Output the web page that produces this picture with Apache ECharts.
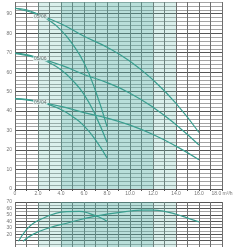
<!DOCTYPE html>
<html><head><meta charset="utf-8">
<script src="https://cdn.jsdelivr.net/npm/echarts@6/dist/echarts.min.js"></script>
<style>html,body{margin:0;padding:0;background:#fff}#c{width:247px;height:247px}</style>
</head><body><div id="c"></div>
<script>
// Flow (m³/h)
const flowLong = [0, 2, 4, 6, 8, 10, 12, 14, 16];
const flowShort = [0, 1, 2, 3, 4, 5, 6, 7, 8];
// Head curves (m)
const head0508Long = [92.8, 89.6, 84.8, 78.4, 72.8, 65.6, 56, 44, 29];
const head0506Long = [69.6, 67.2, 63.6, 58.8, 54.6, 49.2, 42, 33, 22.6];
const head0504Long = [46.4, 44.8, 42.4, 39.2, 36.4, 32.8, 28, 22, 15];
const head0508Short = [92.8, 92, 89.6, 86.4, 81.6, 74.4, 64.8, 50.4, 32];
const head0506Short = [69.6, 69, 67.2, 64.8, 61.2, 55.8, 48.6, 37.8, 24];
const head0504Short = [46.4, 46, 44.8, 43.2, 40.8, 37.2, 32.4, 25.2, 16];
// Curve labels
const curveNames = ['05/08', '05/06', '05/04'];
const labelFlow = [2.2, 2.2, 2.2];
const labelHead = [88.3, 66.8, 44.5];
// Efficiency curves (%)
const effShortFlow = [0.3, 1.0, 1.6, 2.5, 3.3, 4.5, 5.6, 6.5, 7.4, 8.0];
const effShortVal = [9, 27, 37, 45, 51, 55, 55.5, 52, 46, 40];
const effLongFlow = [0.7, 1.6, 3.0, 4.5, 6.0, 8.0, 10.0, 11.0, 12.0, 13.0, 14.0, 15.0, 16.0];
const effLongVal = [9, 20, 30, 37, 44, 51, 56, 57.5, 57.5, 55.5, 51, 45, 39];
// Tick labels
const xTickLabels = {0: '0', 2: '2.0', 4: '4.0', 6: '6.0', 8: '8.0', 10: '10.0', 12: '12.0', 14: '14.0', 16: '16.0', 18: '18.0 m³/h'};
// Shaded operating ranges
const rangeOuter = [2, 14];
const rangeInner = [4, 12];

const zip = (a, b) => a.map((v, i) => [v, b[i]]);
const teal = '#3a9e8f';
const font = 'Liberation Sans';
const labCol = '#777';
const dark = '#555555', light = '#a4a4a4';

const lineSeries = (data, xi, yi) => ({
  type: 'line', data, xAxisIndex: xi, yAxisIndex: yi, smooth: true, symbol: 'none',
  lineStyle: { color: teal, width: 1.2 }, z: 3
});
const shade = (xi, yi) => ({
  type: 'line', data: [], xAxisIndex: xi, yAxisIndex: yi, silent: true,
  markArea: { silent: true, data: [
    [{ xAxis: rangeOuter[0], itemStyle: { color: 'rgba(110,195,180,0.25)' } }, { xAxis: rangeOuter[1] }],
    [{ xAxis: rangeInner[0], itemStyle: { color: 'rgba(70,165,155,0.22)' } }, { xAxis: rangeInner[1] }]
  ] }
});

const chart = echarts.init(document.getElementById('c'), null, { renderer: 'canvas' });
chart.setOption({
  animation: false,
  grid: [
    { left: 15, right: 25, top: 2, height: 187 },
    { left: 15, right: 25, top: 202, height: 51 }
  ],
  xAxis: [
    { type: 'value', gridIndex: 0, min: 0, max: 18, interval: 1,
      axisLine: { show: true, lineStyle: { color: dark, width: 1 } },
      axisTick: { show: true, length: 2, lineStyle: { color: dark } },
      axisLabel: { fontSize: 5, fontFamily: font, color: labCol, margin: 2,
        formatter: v => xTickLabels[v] !== undefined ? xTickLabels[v] : '' },
      splitLine: { show: true, lineStyle: { color: '#6e6e6e', width: 1 } } },
    { type: 'value', gridIndex: 1, min: 0, max: 18, interval: 1,
      axisLine: { show: false }, axisTick: { show: false }, axisLabel: { show: false },
      splitLine: { show: true, lineStyle: { color: '#6e6e6e', width: 1 } } }
  ],
  yAxis: [
    { type: 'value', gridIndex: 0, min: 0, max: 96, interval: 2,
      axisLine: { show: false }, axisTick: { show: false },
      axisLabel: { fontSize: 5, fontFamily: font, color: labCol, margin: 3,
        formatter: v => v % 10 === 0 ? String(v) : '' },
      splitLine: { show: true, lineStyle: { color: [dark, light, light, light, light], width: 1 } } },
    { type: 'value', gridIndex: 1, min: 0, max: 70, interval: 5,
      axisLine: { show: false }, axisTick: { show: false },
      axisLabel: { fontSize: 5, fontFamily: font, color: labCol, margin: 3,
        formatter: v => (v % 10 === 0 && v >= 20) ? String(v) : '' },
      splitLine: { show: true, lineStyle: { color: [dark, light], width: 1 } } }
  ],
  series: [
    shade(0, 0), shade(1, 1),
    lineSeries(zip(flowLong, head0508Long), 0, 0),
    lineSeries(zip(flowLong, head0506Long), 0, 0),
    lineSeries(zip(flowLong, head0504Long), 0, 0),
    lineSeries(zip(flowShort, head0508Short), 0, 0),
    lineSeries(zip(flowShort, head0506Short), 0, 0),
    lineSeries(zip(flowShort, head0504Short), 0, 0),
    lineSeries(zip(effShortFlow, effShortVal), 1, 1),
    lineSeries(zip(effLongFlow, effLongVal), 1, 1),
    { type: 'scatter', xAxisIndex: 0, yAxisIndex: 0, symbolSize: 0, z: 5,
      data: labelFlow.map((x, i) => ({ value: [x, labelHead[i]], name: curveNames[i] })),
      label: { show: true, position: 'inside', formatter: p => p.name, fontSize: 5,
        fontFamily: font, color: '#555', backgroundColor: '#e4f2f0', padding: [0, 1] } }
  ]
});
</script>
</body></html>
